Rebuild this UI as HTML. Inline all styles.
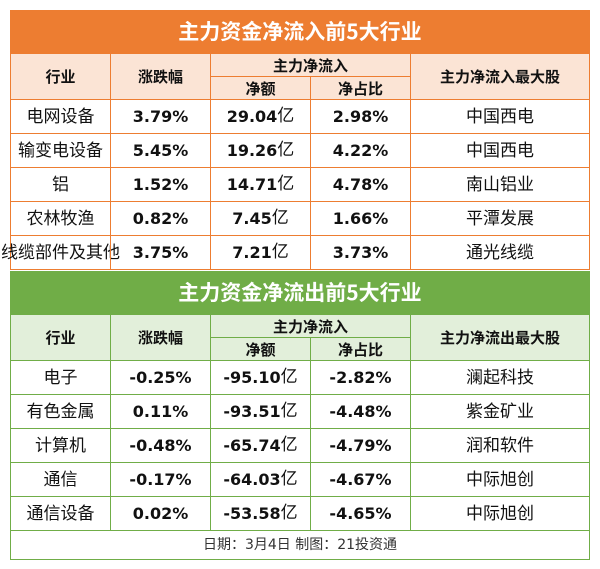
<!DOCTYPE html>
<html><head><meta charset="utf-8"><style>
body{margin:0;width:600px;height:569px;background:#fff;position:relative;overflow:hidden;font-family:"DejaVu Sans","Liberation Sans","Noto Sans CJK SC",sans-serif;}
.c{position:absolute;box-sizing:border-box;display:flex;align-items:center;justify-content:center;white-space:nowrap;color:#111;font-size:16px;line-height:1;}
.c span{line-height:1;}
.t{color:#fff;font-weight:bold;font-size:21px;font-family:"Noto Sans CJK SC","WenQuanYi Zen Hei",sans-serif;}
.h{font-weight:bold;font-size:15px;font-family:"Noto Sans CJK SC","WenQuanYi Zen Hei",sans-serif;}
.n{font-family:"DejaVu Sans",sans-serif;font-weight:bold;font-size:16px;}
.z{font-family:"WenQuanYi Zen Hei","Noto Sans CJK SC",sans-serif;font-size:17px;padding-bottom:4px;}
.o{border:1px solid #ED7D31;}
.g{border:1px solid #70AD47;}
</style></head><body>
<div class="c t" style="left:10px;top:10px;width:580px;height:43px;background:#ED7D31">主力资金净流入前5大行业</div>
<div class="c h o" style="left:10px;top:53px;width:101px;height:47px;background:#FBE4D5">行业</div>
<div class="c h o" style="left:110px;top:53px;width:101px;height:47px;background:#FBE4D5">涨跌幅</div>
<div class="c h o" style="left:210px;top:53px;width:201px;height:24px;background:#FBE4D5">主力净流入</div>
<div class="c h o" style="left:210px;top:76px;width:101px;height:24px;background:#FBE4D5">净额</div>
<div class="c h o" style="left:310px;top:76px;width:101px;height:24px;background:#FBE4D5">净占比</div>
<div class="c h o" style="left:410px;top:53px;width:180px;height:47px;background:#FBE4D5">主力净流入最大股</div>
<div id="a"></div>
<div class="c t" style="left:10px;top:271px;width:580px;height:43px;background:#70AD47">主力资金净流出前5大行业</div>
<div class="c h g" style="left:10px;top:314px;width:101px;height:47px;background:#E2EFDA">行业</div>
<div class="c h g" style="left:110px;top:314px;width:101px;height:47px;background:#E2EFDA">涨跌幅</div>
<div class="c h g" style="left:210px;top:314px;width:201px;height:24px;background:#E2EFDA">主力净流入</div>
<div class="c h g" style="left:210px;top:337px;width:101px;height:24px;background:#E2EFDA">净额</div>
<div class="c h g" style="left:310px;top:337px;width:101px;height:24px;background:#E2EFDA">净占比</div>
<div class="c h g" style="left:410px;top:314px;width:180px;height:47px;background:#E2EFDA">主力净流出最大股</div>
<div id="b"></div>
<div class="c g" style="left:10px;top:530px;width:580px;height:30px;font-size:14px;color:#333;font-family:'DejaVu Sans','WenQuanYi Zen Hei',sans-serif">日期：3月4日 制图：21投资通</div>
<script>
function rows(id,top,cls,data){var h='';data.forEach(function(r,i){var y=top+i*34;
h+='<div class="c z '+cls+'" style="left:10px;top:'+y+'px;width:101px;height:35px">'+r[0]+'</div>';
h+='<div class="c n '+cls+'" style="left:110px;top:'+y+'px;width:101px;height:35px">'+r[1]+'</div>';
h+='<div class="c n '+cls+'" style="left:210px;top:'+y+'px;width:101px;height:35px"><span>'+r[2]+'</span><span style="font-weight:normal;font-size:17px;position:relative;top:-1px;font-family:\'WenQuanYi Zen Hei\',sans-serif">亿</span></div>';
h+='<div class="c n '+cls+'" style="left:310px;top:'+y+'px;width:101px;height:35px">'+r[3]+'</div>';
h+='<div class="c z '+cls+'" style="left:410px;top:'+y+'px;width:180px;height:35px">'+r[4]+'</div>';});
document.getElementById(id).outerHTML=h;}
rows('a',99,'o',[["电网设备","3.79%","29.04","2.98%","中国西电"],["输变电设备","5.45%","19.26","4.22%","中国西电"],["铝","1.52%","14.71","4.78%","南山铝业"],["农林牧渔","0.82%","7.45","1.66%","平潭发展"],["线缆部件及其他","3.75%","7.21","3.73%","通光线缆"]]);
rows('b',360,'g',[["电子","-0.25%","-95.10","-2.82%","澜起科技"],["有色金属","0.11%","-93.51","-4.48%","紫金矿业"],["计算机","-0.48%","-65.74","-4.79%","润和软件"],["通信","-0.17%","-64.03","-4.67%","中际旭创"],["通信设备","0.02%","-53.58","-4.65%","中际旭创"]]);
</script>
</body></html>
